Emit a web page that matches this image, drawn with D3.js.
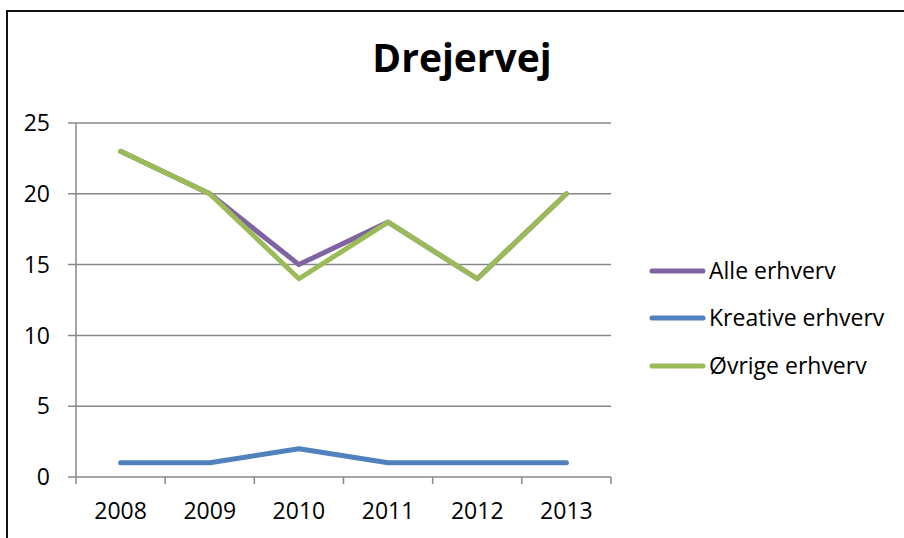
<!DOCTYPE html>
<html>
<head>
<meta charset="utf-8">
<script src="https://cdn.jsdelivr.net/npm/d3@7"></script>
<style>
  body { margin: 0; background: #fff; }
  text { font-family: "Open Sans", sans-serif; fill: #000; }
</style>
</head>
<body>
<div id="wrapper"></div>
<script>
// data
const years = ['2008', '2009', '2010', '2011', '2012', '2013'];
const alleErhverv = [23, 20, 15, 18, 14, 20];
const kreativeErhverv = [1, 1, 2, 1, 1, 1];
const oevrigeErhverv = [23, 20, 14, 18, 14, 20];
const seriesNames = ['Alle erhverv', 'Kreative erhverv', 'Øvrige erhverv'];
const seriesColors = ['#8064a2', '#4f81bd', '#9bbb59'];
const yTicks = [0, 5, 10, 15, 20, 25];

const width = 904;
const height = 538;
const plot = {left: 76, right: 611, top: 123, bottom: 477};

const svg = d3.select('#wrapper')
  .append('svg')
  .attr('width', width)
  .attr('height', height);

// frame of the chart area
svg.append('rect')
  .attr('x', 7)
  .attr('y', 11)
  .attr('width', 1000)
  .attr('height', 1000)
  .attr('fill', '#fff')
  .attr('stroke', '#111')
  .attr('stroke-width', 2);

// scales
const x = d3.scaleBand().domain(years).range([plot.left, plot.right]).paddingInner(0).paddingOuter(0);
const y = d3.scaleLinear().domain([0, 25]).range([plot.bottom, plot.top]);
const cx = d => x(d) + x.bandwidth() / 2;

// gridlines + y labels
const grid = svg.append('g');
grid.selectAll('line')
  .data(yTicks)
  .join('line')
  .attr('x1', plot.left - 8)
  .attr('x2', plot.right)
  .attr('y1', d => y(d))
  .attr('y2', d => y(d))
  .attr('stroke', '#888')
  .attr('stroke-width', 1.5);

grid.selectAll('text')
  .data(yTicks)
  .join('text')
  .attr('x', 50)
  .attr('y', d => y(d))
  .attr('dy', '0.36em')
  .attr('text-anchor', 'end')
  .style('font-size', '23px')
  .text(d => d);

// y axis line
svg.append('line')
  .attr('x1', plot.left).attr('x2', plot.left)
  .attr('y1', plot.top).attr('y2', plot.bottom + 7)
  .attr('stroke', '#888')
  .attr('stroke-width', 1.5);

// x ticks on band boundaries
const boundaries = years.map(d => x(d)).concat([plot.right]);
svg.append('g').selectAll('line')
  .data(boundaries.slice(1))
  .join('line')
  .attr('x1', d => d).attr('x2', d => d)
  .attr('y1', plot.bottom).attr('y2', plot.bottom + 7)
  .attr('stroke', '#888')
  .attr('stroke-width', 1.5);

svg.append('g').selectAll('text')
  .data(years)
  .join('text')
  .attr('x', cx)
  .attr('y', 519)
  .attr('text-anchor', 'middle')
  .style('font-size', '23px')
  .text(d => d);

// lines
const allSeries = [alleErhverv, kreativeErhverv, oevrigeErhverv];
const line = d3.line()
  .x((d, i) => cx(years[i]))
  .y(d => y(d));

svg.append('g').selectAll('path')
  .data(allSeries)
  .join('path')
  .attr('d', line)
  .attr('fill', 'none')
  .attr('stroke', (d, i) => seriesColors[i])
  .attr('stroke-width', 5)
  .attr('stroke-linejoin', 'round')
  .attr('stroke-linecap', 'round');

// title
svg.append('text')
  .attr('x', 462)
  .attr('y', 72)
  .attr('text-anchor', 'middle')
  .style('font-size', '39px')
  .style('font-weight', 'bold')
  .text('Drejervej');

// legend
const legend = svg.append('g');
const legendY = [271, 318, 366];
seriesNames.forEach((name, i) => {
  legend.append('line')
    .attr('x1', 652).attr('x2', 703)
    .attr('y1', legendY[i]).attr('y2', legendY[i])
    .attr('stroke', seriesColors[i])
    .attr('stroke-width', 5)
    .attr('stroke-linecap', 'round');
  legend.append('text')
    .attr('x', 709)
    .attr('y', legendY[i])
    .attr('dy', '0.36em')
    .style('font-size', '23px')
    .text(name);
});
</script>
</body>
</html>
